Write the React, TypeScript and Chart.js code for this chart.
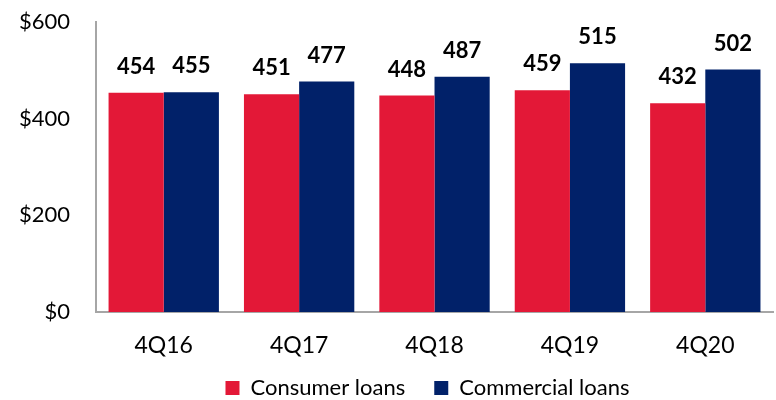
import React, { useEffect, useRef } from 'react';
import { Chart, registerables, Plugin } from 'chart.js';

Chart.register(...registerables);

const quarters = ['4Q16', '4Q17', '4Q18', '4Q19', '4Q20'];
const consumerLoans = [454, 451, 448, 459, 432];
const commercialLoans = [455, 477, 487, 515, 502];
const yTicks = [0, 200, 400, 600];

const FONT = 'Lato, "Open Sans", sans-serif';

// draws the bold value above every bar
const barValues: Plugin<'bar'> = {
  id: 'barValues',
  afterDatasetsDraw(chart) {
    const ctx = chart.ctx;
    ctx.save();
    ctx.font = `bold 22px ${FONT}`;
    ctx.fillStyle = '#000000';
    ctx.textAlign = 'center';
    ctx.textBaseline = 'alphabetic';
    chart.data.datasets.forEach((ds, i) => {
      chart.getDatasetMeta(i).data.forEach((bar, j) => {
        ctx.fillText(String(ds.data[j]), bar.x, bar.y - 19);
      });
    });
    ctx.restore();
  },
};

// the x axis box is kept short so the legend sits close to it;
// let its labels draw past the box and move the legend under the plot centre
const nudgeLayout: Plugin<'bar'> = {
  id: 'nudgeLayout',
  afterLayout(chart) {
    chart.scales.x.bottom = chart.height;
    if (chart.legend) {
      chart.legend.left += 72;
      chart.legend.right += 0;
    }
  },
};

const App: React.FC = () => {
  const chartRef = useRef<HTMLCanvasElement>(null);
  const chartInstance = useRef<Chart | null>(null);

  useEffect(() => {
    document.body.style.margin = '0';
    if (!chartRef.current) return;
    if (chartInstance.current) chartInstance.current.destroy();

    const ctx = chartRef.current.getContext('2d');
    if (!ctx) return;

    chartInstance.current = new Chart(ctx, {
      type: 'bar',
      data: {
        labels: quarters,
        datasets: [
          {
            label: 'Consumer loans',
            data: consumerLoans,
            backgroundColor: '#E31837',
            categoryPercentage: 0.815,
            barPercentage: 1,
          },
          {
            label: 'Commercial loans',
            data: commercialLoans,
            backgroundColor: '#012169',
            categoryPercentage: 0.815,
            barPercentage: 1,
          },
        ],
      },
      options: {
        responsive: false,
        animation: false,
        layout: { padding: { top: 0, right: 3, left: 10, bottom: -9 } },
        plugins: {
          tooltip: { enabled: false },
          legend: {
            position: 'bottom',
            labels: {
              boxWidth: 14,
              boxHeight: 14,
              padding: 29,
              color: '#000000',
              font: { family: FONT, size: 22 },
            },
          },
        },
        scales: {
          x: {
            grid: { display: false },
            border: { display: true, color: '#A6A6A6', width: 2 },
            ticks: {
              color: '#000000',
              padding: 12,
              font: { family: FONT, size: 23 },
            },
            afterFit: (axis) => {
              axis.height = 36;
            },
          },
          y: {
            min: 0,
            max: 600,
            afterBuildTicks: (axis) => {
              axis.ticks = yTicks.map((v) => ({ value: v }));
            },
            grid: { display: false, tickLength: 17 },
            border: { display: true, color: '#A6A6A6', width: 2 },
            ticks: {
              color: '#000000',
              padding: 9,
              font: { family: FONT, size: 22 },
              callback: (v) => `$${v}`,
            },
          },
        },
      },
      plugins: [barValues, nudgeLayout],
    });

    return () => {
      if (chartInstance.current) {
        chartInstance.current.destroy();
        chartInstance.current = null;
      }
    };
  }, []);

  return <canvas ref={chartRef} width={776} height={400} />;
};

export default App;
